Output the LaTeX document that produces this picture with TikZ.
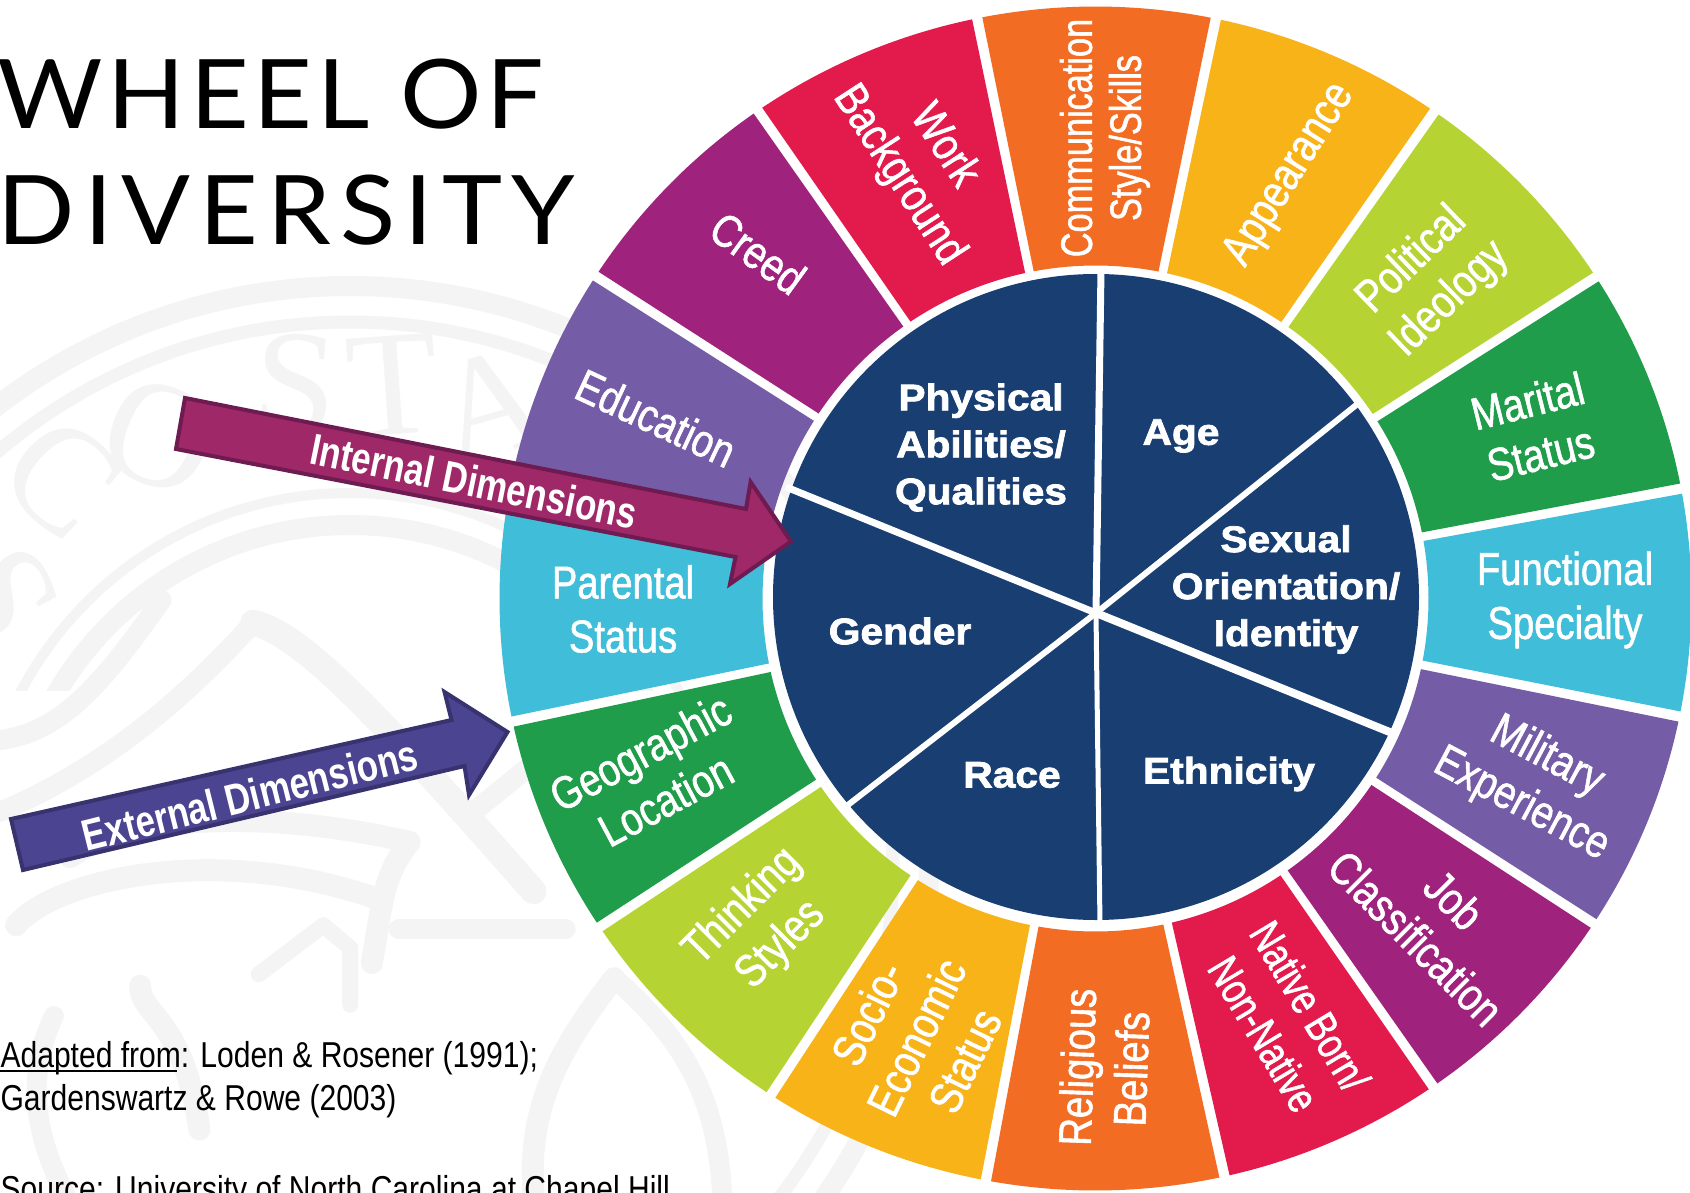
\documentclass[tikz,border=0pt]{standalone}
\usepackage{fontspec}
\setmainfont{Liberation Sans}
\newfontfamily\commfont[FakeStretch=0.78,FakeBold=1.2]{Liberation Sans}
\newfontfamily\condfont[FakeStretch=0.83,FakeBold=1.2]{Liberation Sans}
\newfontfamily\bandfont[FakeStretch=0.79]{Liberation Sans}
\newfontfamily\citefont[FakeStretch=0.835]{Liberation Sans}
\newfontfamily\heavyfont[FakeStretch=1.1,FakeBold=2]{Liberation Sans}
\newfontfamily\titlefonta[FakeStretch=1.06,LetterSpace=5]{Lato}
\newfontfamily\titlefontb[FakeStretch=1.06,LetterSpace=9.5]{Lato}
\newfontfamily\sealfont{Liberation Serif}
\definecolor{cOr}{HTML}{F36C24}
\definecolor{cYe}{HTML}{F8B319}
\definecolor{cLi}{HTML}{B5D433}
\definecolor{cGr}{HTML}{209D4A}
\definecolor{cCy}{HTML}{40BDD8}
\definecolor{cPu}{HTML}{755CA6}
\definecolor{cMa}{HTML}{9F227D}
\definecolor{cRe}{HTML}{E31B4C}
\definecolor{cNavy}{HTML}{183E72}
\definecolor{cSeal}{HTML}{F4F4F4}
\definecolor{aInt}{HTML}{9F2868}
\definecolor{aIntD}{HTML}{6E1B52}
\definecolor{aExt}{HTML}{4B4490}
\definecolor{aExtD}{HTML}{38336F}
\tikzset{
 outerlabel/.style={text=white,align=center,font=\fontsize{46}{54}\selectfont\condfont},
 commlabel/.style={text=white,align=center,font=\fontsize{44}{49}\selectfont\commfont},
 nativelabel/.style={text=white,align=center,font=\fontsize{44}{54}\selectfont\commfont},
 innerlabel/.style={text=white,align=center,font=\fontsize{37}{47}\selectfont\bfseries\heavyfont},
 bandlabel/.style={text=white,font=\fontsize{44}{50}\selectfont\bfseries\bandfont},
 titleline/.style={anchor=base west,text=black},
 citeline/.style={anchor=base west,text=black,font=\fontsize{36}{40}\selectfont\citefont},
 spoke/.style={draw=white,line width=#1},
 sealband/.style={draw=cSeal,line width=#1,line cap=round,line join=round},
 sealletter/.style={text=cSeal,font=\fontsize{150}{150}\selectfont\sealfont},
}
\newcommand{\sectorfill}[3]{%
  \fill[#3] plot[domain=#1+0.5:#2-0.5,samples=30] ({1095.5+596*sin(\x)},{598.5-592*cos(\x)})
    -- plot[domain=#2-0.75:#1+0.75,samples=20] ({1095.5+333*sin(\x)},{598.5-333*cos(\x)}) -- cycle;}
\begin{document}
\begin{tikzpicture}[x=1pt,y=-1pt]
\useasboundingbox (0,0) rectangle (1690,1193);
\fill[white] (0,0) rectangle (1690,1193);
\clip (0,0) rectangle (1690,1193);
% watermark seal
\draw[sealband=20] (350,865) circle (579);
\draw[sealband=13] (350,865) circle (543);
\begin{scope}
\clip (0,0) rectangle (900,690);
\draw[sealband=10] (350,865) circle (372);
\draw[sealband=20] (350,865) circle (340);
\end{scope}
\node[sealletter,rotate=-62] (sealS) at (2,595) {S};
\node[sealletter,rotate=-42] (sealC) at (62,478) {C};
\node[sealletter,rotate=-22] (sealO) at (160,436) {O};
\node[sealletter,rotate=-4] (sealSb) at (296,385) {S};
\node[sealletter,rotate=4] (sealT) at (393,385) {T};
\node[sealletter,rotate=16] (sealA) at (490,405) {A};
\begin{scope}[shift={(0,600)},x=0.5388pt,y=-0.3782pt]
\draw[sealband=20] (0,370) .. controls (120,350) and (200,200) .. (300,0);
\draw[sealband=20] (0,560) .. controls (200,440) and (350,250) .. (470,60);
\draw[sealband=26] (470,60) .. controls (560,90) and (700,300) .. (990,770);
\draw[sealband=22] (130,680) .. controls (250,560) and (520,560) .. (760,640);
\draw[sealband=22] (760,640) .. controls (710,730) and (710,800) .. (690,960);
\draw[sealband=22] (30,860) .. controls (100,740) and (400,640) .. (700,790);
\draw[sealband=16] (480,990) -- (600,860) -- (650,920) -- (650,1070);
\draw[sealband=22] (260,1020) .. controls (260,1100) and (340,1100) .. (370,1400);
\draw[sealband=20] (740,870) -- (1050,870);
\draw[sealband=20] (870,570) -- (1000,420);
\draw[sealband=22] (990,1568) .. controls (980,1350) and (1030,1200) .. (1140,1000);
\draw[sealband=20] (1140,1000) .. controls (1260,1150) and (1330,1300) .. (1340,1568);
\draw[sealband=20] (100,1100) .. controls (50,1250) and (60,1400) .. (120,1568);
\end{scope}
% outer ring
\sectorfill{-11.45}{11.65}{cOr}
\sectorfill{11.65}{34.65}{cYe}
\sectorfill{34.65}{57.1}{cLi}
\sectorfill{57.1}{79.3}{cGr}
\sectorfill{79.3}{101.5}{cCy}
\sectorfill{101.5}{123.3}{cPu}
\sectorfill{123.3}{145.5}{cMa}
\sectorfill{145.5}{167.5}{cRe}
\sectorfill{167.5}{190.6}{cOr}
\sectorfill{190.6}{213}{cYe}
\sectorfill{213}{236.3}{cLi}
\sectorfill{236.3}{258}{cGr}
\sectorfill{258}{281.25}{cCy}
\sectorfill{281.25}{303}{cPu}
\sectorfill{303}{325.5}{cMa}
\sectorfill{325.5}{348.55}{cRe}
% inner disc
\fill[cNavy] (1096,597) circle (323);
\coordinate (hub) at (1096,613);
\coordinate (sTop) at (1101,270);
\coordinate (sAge) at (1360,402);
\coordinate (sSex) at (1397,735);
\coordinate (sEth) at (1100,925);
\coordinate (sRace) at (844,808);
\coordinate (sGen) at (786,487);
\draw[spoke=7] (hub) -- (sTop);
\draw[spoke=6] (hub) -- (sAge);
\draw[spoke=8] (hub) -- (sSex);
\draw[spoke=5] (hub) -- (sEth);
\draw[spoke=6] (hub) -- (sRace);
\draw[spoke=7] (hub) -- (sGen);
% inner labels
\node[innerlabel] (physical) at (981,447.5) {Physical\\Abilities/\\Qualities};
\node[innerlabel] (age) at (1181,436) {Age};
\node[innerlabel] (sexual) at (1286,589.5) {Sexual\\Orientation/\\Identity};
\node[innerlabel] (gender) at (900,631) {Gender};
\node[innerlabel] (race) at (1012,775) {Race};
\node[innerlabel] (ethnicity) at (1229,774) {Ethnicity};
% outer labels
\node[commlabel,rotate=90] (comm) at (1105,138) {Communication\\Style/Skills};
\node[outerlabel,rotate=58] (appearance) at (1290,175) {Appearance};
\node[outerlabel,rotate=44] (political) at (1431,280) {Political\\Ideology};
\node[outerlabel,rotate=14] (marital) at (1534,427) {Marital\\Status};
\node[outerlabel] (functional) at (1565,600) {Functional\\Specialty};
\node[outerlabel,rotate=-28] (military) at (1534,781) {Military\\Experience};
\node[outerlabel,rotate=-45] (job) at (1435,919) {Job\\Classification};
\node[nativelabel,rotate=-59] (native) at (1287,1020) {Native Born/\\Non-Native};
\node[outerlabel,rotate=88] (religious) at (1104,1068) {Religious\\Beliefs};
\node[outerlabel,rotate=64] (socio) at (916,1037) {Socio-\\Economic\\Status};
\node[outerlabel,rotate=45] (thinking) at (762,926) {Thinking\\Styles};
\node[outerlabel,rotate=28] (geographic) at (653,776) {Geographic\\Location};
\node[outerlabel] (parental) at (623,609) {Parental\\Status};
\node[outerlabel,rotate=-25] (education) at (656,418) {Education};
\node[outerlabel,rotate=-36] (creed) at (758,253) {Creed};
\node[outerlabel,rotate=-57] (work) at (921,161) {Work\\Background};
% arrows
\draw[fill=aInt,draw=aIntD,line width=4,line join=miter]
  (185,398) -- (746,509) -- (750.6,482) -- (791,541.5) -- (730,584) -- (735.5,557) -- (176,449) -- cycle;
\node[bandlabel,rotate=-11.5] (internal) at (474,481) {Internal Dimensions};
\draw[fill=aExt,draw=aExtD,line width=4,line join=miter]
  (11,819) -- (451.5,720) -- (444.5,692) -- (507.5,732) -- (469,795) -- (464.5,766) -- (23,870) -- cycle;
\node[bandlabel,rotate=14] (external) at (250,795) {External Dimensions};
% title
\node[titleline,font=\fontsize{96}{100}\selectfont\titlefonta] (title1) at (-6,129) {WHEEL OF};
\node[titleline,font=\fontsize{96}{100}\selectfont\titlefontb] (title2) at (-6,244) {DIVERSITY};
% citations
\node[citeline] (cite1) at (-3,1067) {Adapted from: Loden \& Rosener (1991);};
\node[citeline] (cite2) at (-3,1110) {Gardenswartz \& Rowe (2003)};
\node[citeline] (cite3) at (-3,1201) {Source: University of North Carolina at Chapel Hill};
\coordinate (ulA) at (0,1071);
\coordinate (ulB) at (177,1071);
\draw[black,line width=2.5] (ulA) -- (ulB);
\end{tikzpicture}
\end{document}
